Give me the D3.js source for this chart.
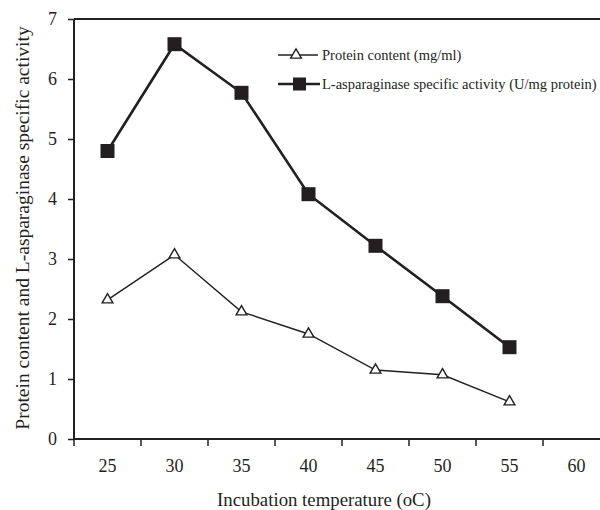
<!DOCTYPE html>
<html><head><meta charset="utf-8">
<script src="https://cdn.jsdelivr.net/npm/d3@7"></script>
<style>body{margin:0;background:#fff}svg{display:block}</style>
</head><body><svg id="c" width="600" height="510"></svg>
<script>
const categories = ["25","30","35","40","45","50","55","60"];
const tempsWithData = ["25","30","35","40","45","50","55"];
const protein = [2.32, 3.07, 2.12, 1.75, 1.15, 1.07, 0.62];
const activity = [4.80, 6.58, 5.77, 4.08, 3.22, 2.38, 1.53];
const yTicks = [0,1,2,3,4,5,6,7];
const seriesNames = ["Protein content (mg/ml)", "L-asparaginase specific activity (U/mg protein)"];
const xTitle = "Incubation temperature (oC)";
const yTitle = "Protein content and L-asparaginase specific activity";

const FONT = "'Liberation Serif', 'Times New Roman', Times, 'DejaVu Serif', serif";
const svg = d3.select("#c");
const ink = "#231f20";
const x = d3.scaleBand().domain(categories).range([74, 610]);
const y = d3.scaleLinear().domain([0,7]).range([439, 19]);

// top border
svg.append("line").attr("x1",74).attr("x2",600).attr("y1",y(7)).attr("y2",y(7)).attr("stroke",ink).attr("stroke-width",1.8);

// y axis
const ya = svg.append("g").attr("transform","translate(74,0)")
  .call(d3.axisLeft(y).tickValues(yTicks).tickSize(6).tickPadding(11).tickFormat(d3.format("d")));
ya.select(".domain").attr("stroke",ink).attr("stroke-width",2).attr("d","M0,"+y(7)+"V"+y(0));
ya.selectAll(".tick line").attr("stroke",ink).attr("stroke-width",1.5);
ya.selectAll(".tick text").style("font-size","18px").style("font-family",FONT).attr("fill",ink);

// x axis
const xa = svg.append("g").attr("transform","translate(0,"+y(0)+")")
  .call(d3.axisBottom(x).tickSize(0).tickPadding(20));
xa.select(".domain").attr("stroke",ink).attr("stroke-width",2).attr("d","M74,0H600");
xa.selectAll(".tick text").style("font-size","18px").style("font-family",FONT).attr("fill",ink).attr("dy","0.7em");
svg.append("g").selectAll("line").data(categories).join("line")
  .attr("x1",d=>x(d)).attr("x2",d=>x(d)).attr("y1",y(0)).attr("y2",y(0)+7)
  .attr("stroke",ink).attr("stroke-width",1.5);

const cx = d => x(d) + x.bandwidth()/2;

const pData = tempsWithData.map((t,i)=>({t, v:protein[i]}));
const aData = tempsWithData.map((t,i)=>({t, v:activity[i]}));
const line = d3.line().x(d=>cx(d.t)).y(d=>y(d.v));
svg.append("path").datum(pData).attr("d",line).attr("fill","none").attr("stroke",ink).attr("stroke-width",1.4);
svg.append("path").datum(aData).attr("d",line).attr("fill","none").attr("stroke",ink).attr("stroke-width",2.6);

const tri = d3.symbol().type(d3.symbolTriangle).size(50);
svg.append("g").selectAll("path").data(pData).join("path")
  .attr("d",tri).attr("transform",d=>`translate(${cx(d.t)},${y(d.v)})`)
  .attr("fill","#fff").attr("stroke",ink).attr("stroke-width",1.4);
const sq = 14;
svg.append("g").selectAll("rect").data(aData).join("rect")
  .attr("x",d=>cx(d.t)-sq/2).attr("y",d=>y(d.v)-sq/2).attr("width",sq).attr("height",sq)
  .attr("fill",ink);

// legend
const lg = svg.append("g");
lg.append("line").attr("x1",278).attr("x2",318).attr("y1",55).attr("y2",55).attr("stroke",ink).attr("stroke-width",1.4);
lg.append("path").attr("d",tri).attr("transform","translate(296,55)").attr("fill","#fff").attr("stroke",ink).attr("stroke-width",1.4);
lg.append("text").attr("x",322).attr("y",59.5).style("font-size","14.5px").style("font-family",FONT).attr("fill",ink).text(seriesNames[0]);
lg.append("line").attr("x1",278).attr("x2",320).attr("y1",84).attr("y2",84).attr("stroke",ink).attr("stroke-width",2.6);
lg.append("rect").attr("x",293).attr("y",77.5).attr("width",13).attr("height",13).attr("fill",ink);
lg.append("text").attr("x",322).attr("y",88.5).style("font-size","14.5px").style("font-family",FONT).attr("fill",ink).text(seriesNames[1]);

// titles
svg.append("text").attr("x",324).attr("y",506).attr("text-anchor","middle").style("font-size","18.8px").style("font-family",FONT).attr("fill",ink).text(xTitle);
svg.append("text").attr("transform","translate(29,228) rotate(-90)").attr("text-anchor","middle").style("font-size","19.5px").style("font-family",FONT).attr("fill",ink).text(yTitle);
</script></body></html>
